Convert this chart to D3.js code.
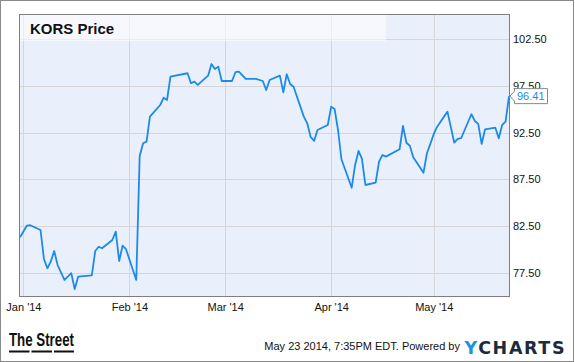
<!doctype html>
<html>
<head>
  <meta charset="utf-8">
  <title>KORS Price</title>
  <script src="https://cdn.jsdelivr.net/npm/d3@7"></script>
  <style>
    body { margin: 0; background: #fff; }
    text { font-family: "Liberation Sans", Arial, sans-serif; }
    .axis path, .axis line { display: none; }
    .axis text { font-size: 11px; fill: #111; }
  </style>
</head>
<body>
<div id="chart"></div>
<script>
// KORS daily close
var dates = ["2013-12-31","2014-01-02","2014-01-03","2014-01-06","2014-01-07","2014-01-08","2014-01-09","2014-01-10",
  "2014-01-11","2014-01-13","2014-01-15","2014-01-16","2014-01-17","2014-01-21","2014-01-22","2014-01-23","2014-01-24",
  "2014-01-27","2014-01-28","2014-01-29","2014-01-30","2014-01-31","2014-02-03","2014-02-04","2014-02-05","2014-02-06",
  "2014-02-07","2014-02-10","2014-02-11","2014-02-12","2014-02-13","2014-02-18","2014-02-19","2014-02-20","2014-02-21",
  "2014-02-24","2014-02-25","2014-02-26","2014-02-27","2014-02-28","2014-03-03","2014-03-04","2014-03-05","2014-03-07",
  "2014-03-10","2014-03-12","2014-03-13","2014-03-14","2014-03-17","2014-03-18","2014-03-19","2014-03-20","2014-03-21",
  "2014-03-24","2014-03-25","2014-03-26","2014-03-27","2014-03-28","2014-03-31","2014-04-01","2014-04-02","2014-04-03",
  "2014-04-04","2014-04-07","2014-04-08","2014-04-09","2014-04-10","2014-04-11","2014-04-14","2014-04-15","2014-04-16",
  "2014-04-17","2014-04-21","2014-04-22","2014-04-23","2014-04-24","2014-04-25","2014-04-28","2014-04-29","2014-04-30",
  "2014-05-01","2014-05-02","2014-05-05","2014-05-07","2014-05-08","2014-05-09","2014-05-12","2014-05-13","2014-05-14",
  "2014-05-15","2014-05-16","2014-05-19","2014-05-20","2014-05-21","2014-05-22","2014-05-23"];
var prices = [81.29,82.53,82.58,82.07,78.97,77.97,78.68,79.82,
  78.32,76.72,77.44,75.75,77.07,77.22,79.82,80.28,80.11,
  81.00,81.89,78.75,80.39,80.01,76.72,89.99,91.36,91.53,
  94.21,95.46,96.24,96.00,98.49,98.86,97.79,97.96,97.61,
  98.60,99.85,99.32,99.57,98.03,98.03,98.97,99.03,98.25,
  98.25,98.03,97.07,98.14,98.60,96.82,98.75,97.71,97.42,
  94.21,93.50,92.04,91.61,92.78,93.32,95.28,95.03,92.78,
  89.65,86.60,89.04,90.54,89.68,86.89,87.14,89.39,90.11,
  89.93,90.72,93.21,91.42,91.10,89.86,88.21,90.29,91.29,
  92.36,93.14,94.75,91.42,91.82,91.90,94.47,93.75,93.43,
  91.29,92.86,93.03,91.90,93.32,93.67,96.41];

var yTicks = [77.5, 82.5, 87.5, 92.5, 97.5, 102.5];
var monthTicks = ["2014-01-01","2014-02-01","2014-03-01","2014-04-01","2014-05-01"];
var lastLabel = "96.41";

var W = 575, H = 362;
var plot = {left: 20, right: 509, top: 15, bottom: 296};

var parse = d3.timeParse("%Y-%m-%d");
var data = dates.map(function(d, i) { return {date: parse(d), value: prices[i]}; });

var svg = d3.select("#chart").append("svg")
  .attr("width", W).attr("height", H);

// outer frame
svg.append("rect")
  .attr("x", 0.5).attr("y", 0.5).attr("width", W - 2).attr("height", H - 1)
  .attr("fill", "#fff").attr("stroke", "#8a8a8a");

var x = d3.scaleTime()
  .domain([parse("2013-12-31"), parse("2014-05-23")])
  .range([plot.left, plot.right]);

var y = d3.scaleLinear()
  .domain([75, 105.1])
  .range([plot.bottom, plot.top]);

// plot background
svg.append("rect")
  .attr("x", plot.left).attr("y", plot.top)
  .attr("width", plot.right - plot.left).attr("height", plot.bottom - plot.top)
  .attr("fill", "#eaf0fb");

// grid
svg.append("g").selectAll("line")
  .data(yTicks).enter().append("line")
    .attr("x1", plot.left).attr("x2", plot.right)
    .attr("y1", function(d) { return Math.round(y(d)) + 0.5; })
    .attr("y2", function(d) { return Math.round(y(d)) + 0.5; })
    .attr("stroke", "#d6d6d6");

svg.append("g").selectAll("line")
  .data(monthTicks).enter().append("line")
    .attr("x1", function(d) { return Math.round(x(parse(d))) + 0.5; })
    .attr("x2", function(d) { return Math.round(x(parse(d))) + 0.5; })
    .attr("y1", plot.top).attr("y2", plot.bottom)
    .attr("stroke", "#d6d6d6");

// title band
svg.append("rect")
  .attr("x", plot.left).attr("y", plot.top)
  .attr("width", 366).attr("height", 26)
  .attr("fill", "#fff").attr("opacity", 0.55);

svg.append("text")
  .attr("x", 30).attr("y", 34)
  .style("font-size", "15px").style("font-weight", "bold").style("fill", "#111")
  .text("KORS Price");

// price line
var line = d3.line()
  .x(function(d) { return x(d.date); })
  .y(function(d) { return y(d.value); });

svg.append("path")
  .datum(data)
  .attr("d", line)
  .attr("fill", "none")
  .attr("stroke", "#1c8ae8")
  .attr("stroke-width", 1.8)
  .attr("stroke-linejoin", "round");

// plot border
svg.append("rect")
  .attr("x", plot.left - 0.5).attr("y", plot.top - 0.5)
  .attr("width", plot.right - plot.left + 1).attr("height", plot.bottom - plot.top + 1)
  .attr("fill", "none").attr("stroke", "#7f7f7f");

// axes
svg.append("g")
  .attr("class", "axis")
  .attr("transform", "translate(0," + plot.bottom + ")")
  .call(d3.axisBottom(x)
    .tickValues(monthTicks.map(parse))
    .tickSize(0).tickPadding(7)
    .tickFormat(d3.timeFormat("%b '%y")));

svg.append("g")
  .attr("class", "axis")
  .attr("transform", "translate(" + (plot.right + 1) + ",0)")
  .call(d3.axisRight(y)
    .tickValues(yTicks)
    .tickSize(0).tickPadding(3)
    .tickFormat(d3.format(".2f")));

// last value flag
var last = data[data.length - 1];
var ly = y(last.value);
var flag = svg.append("g");
flag.append("path")
  .attr("d", "M" + (plot.right + 5.5) + "," + (ly - 5) +
             " L" + (plot.right + 1) + "," + ly +
             " L" + (plot.right + 5.5) + "," + (ly + 5) +
             " L" + (plot.right + 5.5) + "," + (ly + 7.5) +
             " L" + (plot.right + 38.5) + "," + (ly + 7.5) +
             " L" + (plot.right + 38.5) + "," + (ly - 7.5) +
             " L" + (plot.right + 5.5) + "," + (ly - 7.5) + " Z")
  .attr("fill", "#fff").attr("stroke", "#8a8a8a");
flag.append("text")
  .attr("x", plot.right + 8).attr("y", ly + 4)
  .style("font-size", "11px").style("fill", "#1c8ae8")
  .text(lastLabel);

// footer
var foot = svg.append("g");
foot.append("text")
  .attr("x", 9).attr("y", 346)
  .attr("textLength", 65).attr("lengthAdjust", "spacingAndGlyphs")
  .style("font-size", "18px").style("font-weight", "bold").style("fill", "#111")
  .text("The Street");
[[9, 29.5], [31.5, 52], [54, 74]].forEach(function(s) {
  foot.append("rect")
    .attr("x", s[0]).attr("y", 350.5).attr("width", s[1] - s[0]).attr("height", 2)
    .attr("fill", "#111");
});

foot.append("text")
  .attr("x", 460).attr("y", 350)
  .attr("text-anchor", "end")
  .style("font-size", "11px").style("fill", "#111")
  .text("May 23 2014, 7:35PM EDT.  Powered by");

var yc = foot.append("text")
  .attr("x", 464.5).attr("y", 354)
  .attr("textLength", 100).attr("lengthAdjust", "spacing")
  .style("font-family", "'DejaVu Sans', sans-serif")
  .style("font-size", "17.5px").style("font-weight", "bold");
yc.append("tspan").style("fill", "#1a93e0").text("Y");
yc.append("tspan").style("fill", "#1c2b3c").text("CHARTS");
</script>
</body>
</html>
